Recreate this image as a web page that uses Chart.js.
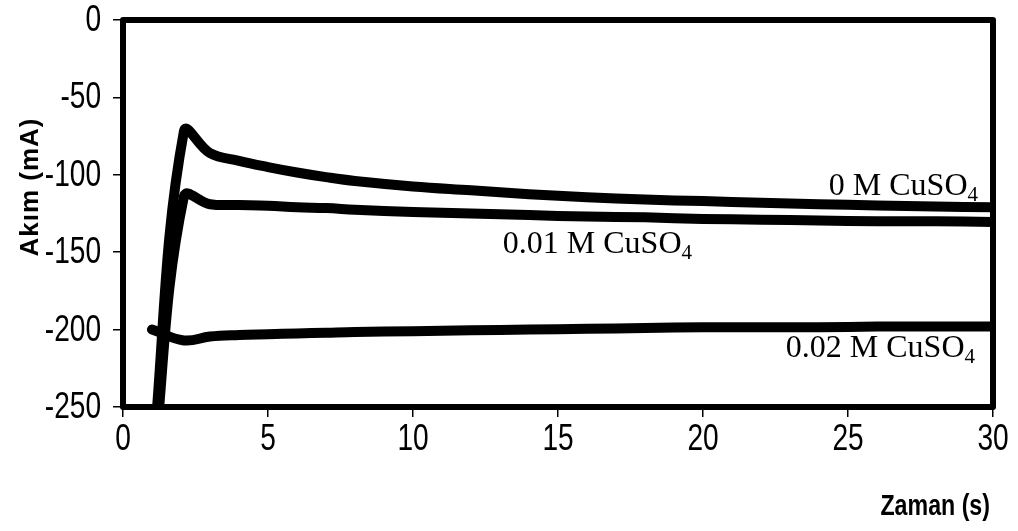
<!DOCTYPE html>
<html>
<head>
<meta charset="utf-8">
<script src="https://cdn.jsdelivr.net/npm/chart.js@4.4.1/dist/chart.umd.min.js"></script>
<style>
    html, body { margin: 0; padding: 0; background: #fff; }
    #wrap { width: 1018px; height: 531px; position: relative; }
</style>
</head>
<body>
<div id="wrap"><canvas id="akimChart"></canvas></div>
<script>
// Zaman (s) ve akım (mA) değerleri
const zaman = [1, 2.1, 3, 4, 5, 6, 7, 8, 10, 12, 14, 16, 18, 20, 22, 24, 26, 28, 30];

const akim0M   = [-290, -72, -86, -91, -95, -98.5, -101.5, -104, -107.5, -110, -112.5, -114.5, -116, -117, -118, -119, -119.8, -120.5, -121];
const akim001M = [-300, -114, -119, -119.5, -120, -121, -121.5, -122.5, -124, -125, -126, -127, -127.5, -128.5, -129, -129.5, -130, -130, -130.5];
const akim002M = [-200, -207, -204.5, -203.5, -203, -202.5, -202, -201.5, -201, -200.5, -200, -199.5, -199, -198.5, -198.5, -198.5, -198, -198, -198];

const seriesNames = ['0 M CuSO', '0.01 M CuSO', '0.02 M CuSO'];
const xTicks = [0, 5, 10, 15, 20, 25, 30];
const yTicks = [0, -50, -100, -150, -200, -250];

const toPoints = vals => vals.map((v, i) => ({ x: zaman[i], y: v }));

function makeDataset(label, vals) {
    return {
        label,
        data: toPoints(vals),
        borderColor: '#000',
        borderWidth: 10,
        borderCapStyle: 'round',
        borderJoinStyle: 'round',
        pointRadius: 0,
        tension: 0.4,
        fill: false,
        clip: 0
    };
}

// dar (condensed) yazı: yatayda sıkıştırarak çiz
function narrowText(ctx, text, x, y, squeeze, align) {
    ctx.save();
    ctx.translate(x, y);
    ctx.scale(squeeze, 1);
    ctx.textAlign = align;
    ctx.fillText(text, 0, 0);
    ctx.restore();
}

// Çerçeve, tik etiketleri, eksen başlıkları ve seri etiketleri
const framePlugin = {
    id: 'frame',
    afterDatasetsDraw(chart) {
        const { ctx, chartArea: a } = chart;
        ctx.save();
        ctx.strokeStyle = '#000';
        ctx.lineWidth = 6;
        ctx.lineJoin = 'round';
        ctx.strokeRect(a.left, a.top, a.right - a.left, a.bottom - a.top);
        ctx.restore();
    },
    afterDraw(chart) {
        const { ctx, chartArea: a, scales } = chart;
        ctx.save();
        ctx.fillStyle = '#000';

        // Tik etiketleri
        ctx.font = '36px "Liberation Sans"';
        ctx.textBaseline = 'middle';
        yTicks.forEach(v => {
            narrowText(ctx, String(v), a.left - 22, scales.y.getPixelForValue(v) + 1, 0.78, 'right');
        });
        ctx.textBaseline = 'top';
        xTicks.forEach(v => {
            narrowText(ctx, String(v), scales.x.getPixelForValue(v), a.bottom + 15, 0.78, 'center');
        });

        // Y ekseni başlığı
        ctx.save();
        ctx.translate(31, 187);
        ctx.rotate(-Math.PI / 2);
        ctx.font = 'bold 26px "Liberation Sans"';
        ctx.letterSpacing = '1px';
        ctx.textAlign = 'center';
        ctx.textBaseline = 'middle';
        ctx.fillText('Akım (mA)', 0, 0);
        ctx.restore();

        // X ekseni başlığı
        ctx.font = 'bold 29px "Liberation Sans"';
        ctx.textBaseline = 'alphabetic';
        narrowText(ctx, 'Zaman (s)', a.right - 3, 515, 0.8, 'right');

        // Seri etiketleri (alt simge 4 ile)
        const spots = [
            { right: 978, base: 195 },
            { right: 692, base: 253 },
            { right: 975, base: 357 }
        ];
        seriesNames.forEach((name, i) => {
            const s = spots[i];
            ctx.font = '32px "Liberation Serif"';
            const w1 = ctx.measureText(name).width;
            ctx.font = '21px "Liberation Serif"';
            const w2 = ctx.measureText('4').width;
            const left = s.right - w1 - w2;
            ctx.textAlign = 'left';
            ctx.font = '32px "Liberation Serif"';
            ctx.fillText(name, left, s.base);
            ctx.font = '21px "Liberation Serif"';
            ctx.fillText('4', left + w1, s.base + 6);
        });
        ctx.restore();
    }
};

const hiddenTicks = { color: 'rgba(0,0,0,0)', font: { size: 34, lineHeight: 1 } };

new Chart(document.getElementById('akimChart'), {
    type: 'line',
    data: {
        datasets: [
            makeDataset(seriesNames[0], akim0M),
            makeDataset(seriesNames[1], akim001M),
            makeDataset(seriesNames[2], akim002M)
        ]
    },
    options: {
        responsive: true,
        maintainAspectRatio: false,
        animation: false,
        layout: { padding: { left: 0, top: 17, right: 25, bottom: 0 } },
        plugins: { legend: { display: false }, tooltip: { enabled: false } },
        scales: {
            x: {
                type: 'linear',
                min: 0, max: 30,
                afterFit: s => { s.height = 124; },
                afterBuildTicks: s => { s.ticks = xTicks.map(v => ({ value: v })); },
                grid: { drawOnChartArea: false, drawTicks: true, tickLength: 10, color: '#000', lineWidth: 1.5 },
                border: { display: false },
                ticks: { ...hiddenTicks, maxRotation: 0 }
            },
            y: {
                min: -250, max: 0,
                afterFit: s => { s.width = 123; },
                afterBuildTicks: s => { s.ticks = yTicks.map(v => ({ value: v })); },
                grid: { drawOnChartArea: false, drawTicks: true, tickLength: 10, color: '#000', lineWidth: 1.5 },
                border: { display: false },
                ticks: hiddenTicks
            }
        }
    },
    plugins: [framePlugin]
});
</script>
</body>
</html>
